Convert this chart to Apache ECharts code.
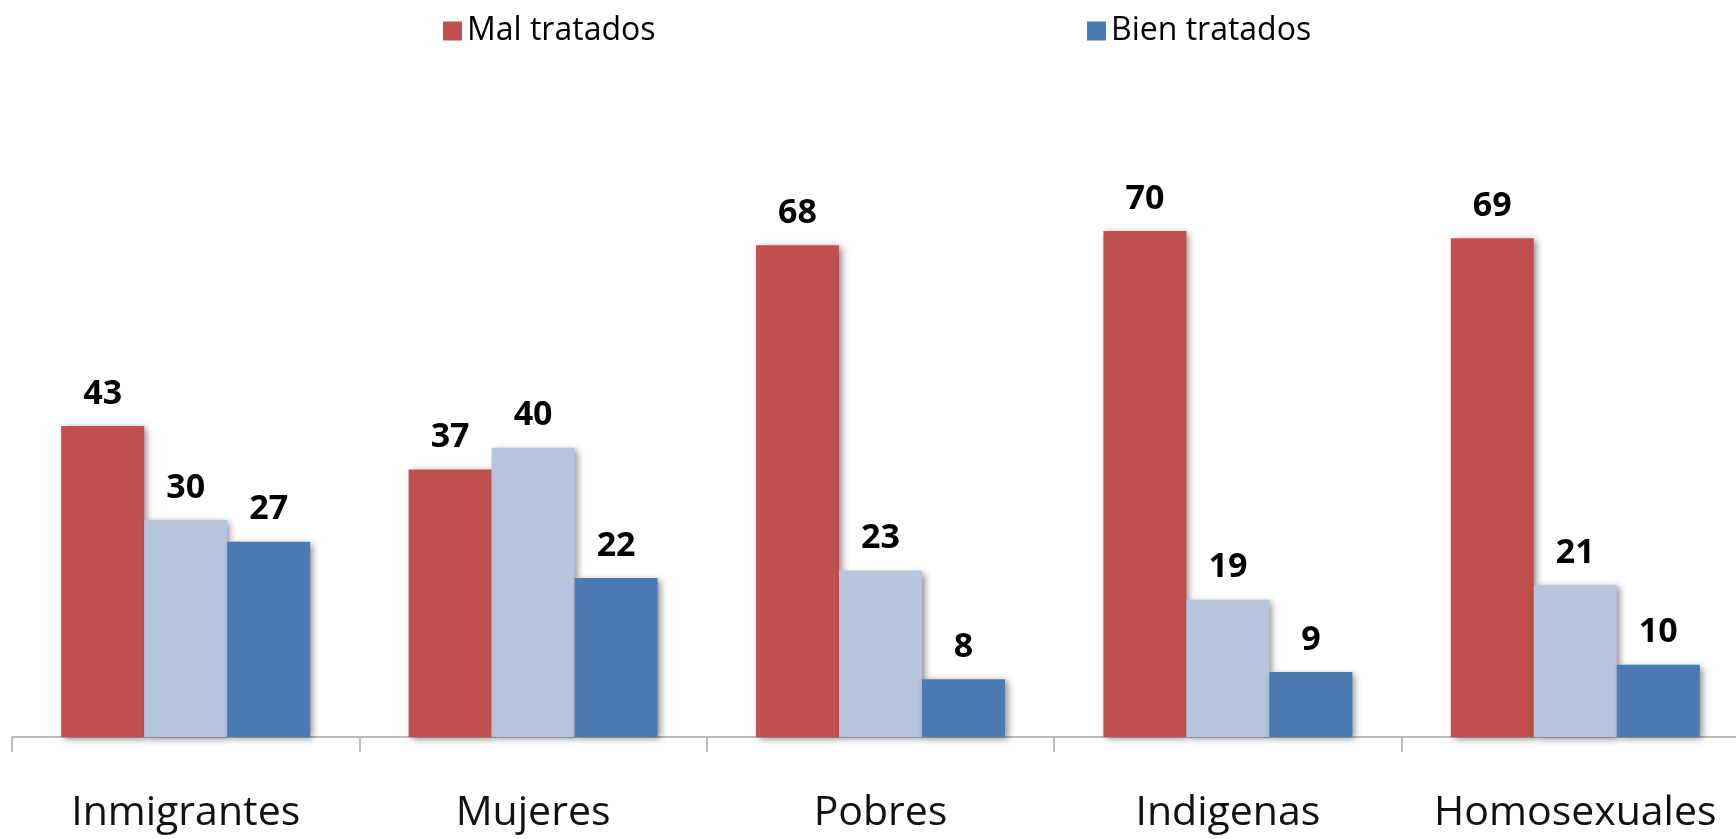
<!DOCTYPE html>
<html>
<head>
<meta charset="utf-8">
<script src="https://cdn.jsdelivr.net/npm/echarts@6/dist/echarts.min.js"></script>
<style>
  html, body { margin: 0; padding: 0; background: #fff; }
  #chart { width: 1736px; height: 839px; }
</style>
</head>
<body>
<div id="chart"></div>
<script>
var categories = ['Inmigrantes', 'Mujeres', 'Pobres', 'Indigenas', 'Homosexuales'];
var malTratados = [43, 37, 68, 70, 69];
var niBienNiMal = [30, 40, 23, 19, 21];
var bienTratados = [27, 22, 8, 9, 10];

var chart = echarts.init(document.getElementById('chart'));

// estilo comun de las barras
function barSeries(name, data, color) {
    return {
        name: name,
        type: 'bar',
        data: data,
        barWidth: 83,
        barGap: '0%',
        itemStyle: {
            color: color,
            shadowBlur: 7,
            shadowOffsetX: 3,
            shadowOffsetY: 2,
            shadowColor: 'rgba(0,0,0,0.45)'
        },
        label: {
            show: true,
            position: 'top',
            distance: 15,
            color: '#000',
            fontFamily: 'Open Sans',
            fontWeight: 'bold',
            fontSize: 34
        }
    };
}

var legendText = { fontFamily: 'Open Sans', fontSize: 32, color: '#000' };

var option = {
    animation: false,
    legend: [
        {
            left: 438, top: 10,
            icon: 'rect', itemWidth: 19, itemHeight: 19, itemGap: 12,
            textStyle: legendText,
            data: ['Mal tratados']
        },
        {
            left: 1082, top: 10,
            icon: 'rect', itemWidth: 19, itemHeight: 19, itemGap: 12,
            textStyle: legendText,
            data: ['Bien tratados']
        }
    ],
    grid: {
        left: 12,
        top: 14,
        width: 1737,
        bottom: 102,
        containLabel: false,
        outerBoundsMode: 'none'
    },
    xAxis: {
        type: 'category',
        data: categories,
        axisLine: { lineStyle: { color: '#a6a6a6', width: 1.5 } },
        axisTick: { show: true, interval: 0, length: 15, lineStyle: { color: '#a6a6a6', width: 1.5 } },
        axisLabel: {
            interval: 0,
            margin: 56,
            fontFamily: 'Open Sans',
            fontSize: 41,
            color: '#111'
        }
    },
    yAxis: {
        type: 'value',
        min: 0,
        max: 100,
        show: false,
        splitLine: { show: false }
    },
    series: [
        barSeries('Mal tratados', malTratados, '#C0504D'),
        barSeries('Ni bien ni mal', niBienNiMal, '#B7C4DE'),
        barSeries('Bien tratados', bienTratados, '#4A7AB1')
    ]
};
chart.setOption(option);
</script>
</body>
</html>
